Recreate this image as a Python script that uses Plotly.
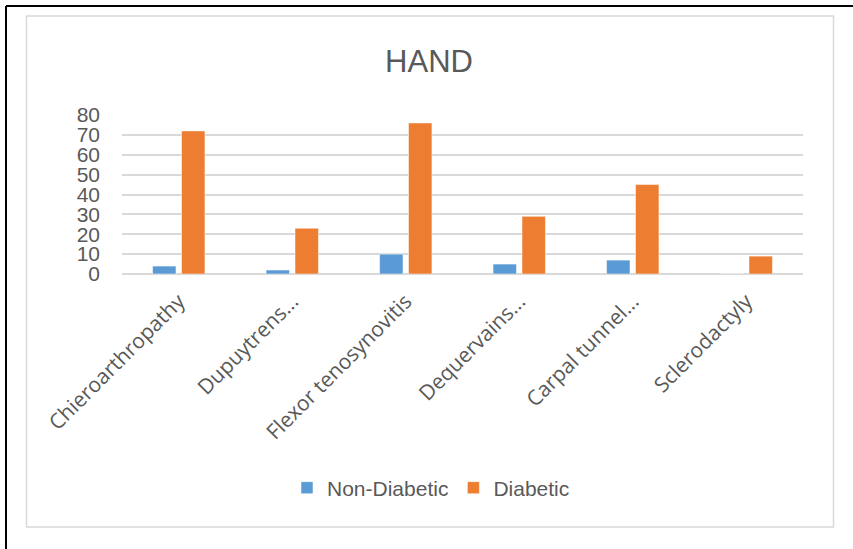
import plotly.graph_objects as go

categories = ["Chieroarthropathy", "Dupuytrens...", "Flexor tenosynovitis",
              "Dequervains...", "Carpal tunnel...", "Sclerodactyly"]
non_diabetic = [4, 2, 10, 5, 7, 0]
diabetic = [72, 23, 76, 29, 45, 9]
y_ticks = [0, 10, 20, 30, 40, 50, 60, 70, 80]

W, H = 853, 549
L, R, T, B = 122, 50, 115, 275
pw, ph = W - L - R, H - T - B

def px(x):
    return (x - L) / pw

def py(y):
    return (H - B - y) / ph

fig = go.Figure()
fig.add_trace(go.Bar(x=categories, y=non_diabetic, name="Non-Diabetic",
                     marker=dict(color="#5B9BD5", line=dict(color="#ffffff", width=0.5))))
fig.add_trace(go.Bar(x=categories, y=diabetic, name="Diabetic",
                     marker=dict(color="#ED7D31", line=dict(color="#ffffff", width=0.5))))

sans = "Liberation Sans, Arial, sans-serif"

fig.update_layout(
    width=W, height=H,
    margin=dict(l=L, r=R, t=T, b=B, pad=0),
    paper_bgcolor="white", plot_bgcolor="white",
    barmode="group", bargap=0.49, bargroupgap=0.19,
    title=dict(text="HAND", xref="container", x=429 / W, xanchor="center",
               yref="container", y=1 - 61 / H, yanchor="middle",
               font=dict(family=sans, size=31, color="#595959")),
    xaxis=dict(tickangle=-45, tickfont=dict(family="Open Sans, sans-serif", size=21, color="#595959"),
               showgrid=False, showline=False, ticks="", zeroline=False, ticklabelstandoff=10),
    yaxis=dict(range=[0, 80], tickvals=y_ticks, showgrid=True, gridcolor="#D9D9D9", gridwidth=1.5,
               zeroline=True, zerolinecolor="#D9D9D9", zerolinewidth=1.5,
               tickfont=dict(family=sans, size=21, color="#595959"),
               ticklabelstandoff=21, showline=False, ticks=""),
    legend=dict(orientation="h", x=px(431), xanchor="center", y=py(488), yanchor="middle",
                font=dict(family=sans, size=21, color="#595959"), itemwidth=30,
                traceorder="normal"),
    showlegend=True,
    shapes=[
        dict(type="rect", xref="paper", yref="paper", x0=px(26.5), x1=px(833.5), y0=py(527), y1=py(16),
             line=dict(color="#D9D9D9", width=1.5), fillcolor="rgba(0,0,0,0)", layer="below"),
        dict(type="line", xref="paper", yref="paper", x0=px(6), x1=px(853), y0=py(6), y1=py(6),
             line=dict(color="#000000", width=2)),
        dict(type="line", xref="paper", yref="paper", x0=px(6), x1=px(6), y0=py(6), y1=py(549),
             line=dict(color="#000000", width=2)),
    ],
)

fig.write_html("out.html")
